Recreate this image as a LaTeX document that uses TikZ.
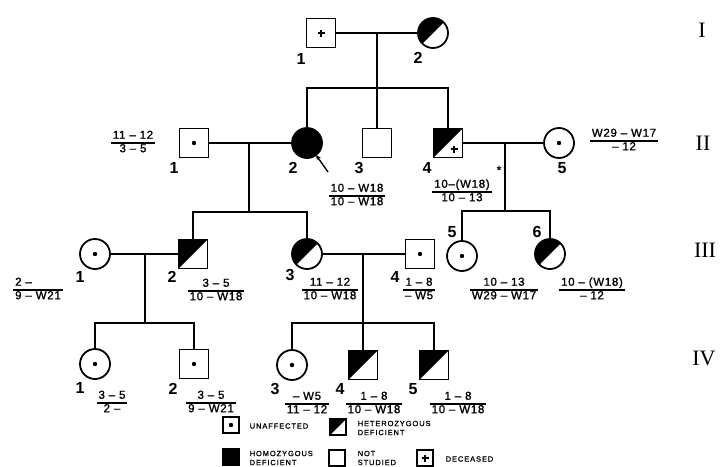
\documentclass[tikz,border=0pt]{standalone}
\usepackage{fontspec}
\usetikzlibrary{arrows.meta}
\newfontfamily\labf{Liberation Sans}
\newfontfamily\legf[LetterSpace=12,FakeBold=1]{Liberation Sans}
\newfontfamily\fracf[LetterSpace=6,FakeBold=1.2]{Liberation Sans}
\newfontfamily\genf{Liberation Serif}
\setlength\arrayrulewidth{1.1pt}
\renewcommand\arraystretch{0.95}
\newcommand\fr[2]{\begin{tabular}{@{\,}c@{\,}}#1\\\hline #2\end{tabular}}
\newcommand\halfsq[1]{\fill (#1.north west) -- (#1.north east) -- (#1.south west) -- cycle;}
\newcommand\halfci[1]{\fill (#1.45) arc[start angle=45,end angle=225,radius=15pt] -- cycle;}
\newcommand\dotc[1]{\fill (#1.center) circle[radius=2.2pt];}
\newcommand\plusat[1]{\draw[line width=1.2pt] ([xshift=-3.5pt]#1) -- ([xshift=3.5pt]#1) ([yshift=-3.5pt]#1) -- ([yshift=3.5pt]#1);}
\begin{document}
\begin{tikzpicture}[x=1pt,y=-1pt, line width=1.4pt,
 sq/.style={draw, rectangle, minimum size=29pt, inner sep=0pt, outer sep=0pt, line width=1.8pt},
 ci/.style={draw, circle, minimum size=30pt, inner sep=0pt, outer sep=0pt, line width=1.8pt},
 lsq/.style={draw, rectangle, minimum size=16pt, inner sep=0pt, outer sep=0pt, line width=1.4pt},
 num/.style={font=\labf\bfseries\fontsize{16}{16}\selectfont, inner sep=0pt},
 frac/.style={font=\fracf\fontsize{11.5}{13}\selectfont, inner sep=0pt},
 gen/.style={font=\genf\fontsize{22}{22}\selectfont, inner sep=0pt},
 leg/.style={font=\legf\fontsize{7.5}{9}\selectfont, inner sep=0pt, anchor=west, align=left}]
\useasboundingbox[fill=white] (0,0) rectangle (720,466);

% ---------- Generation I
\node[sq] (I1) at (321,33) {};
\node[ci] (I2) at (433,33) {};
\halfci{I2}
\plusat{I1.center}
\node[num] (nI1) at (301,59) {1};
\node[num] (nI2) at (418,58) {2};

% ---------- Generation II
\node[sq] (II1) at (194,143) {};
\node[ci, fill=black] (II2) at (307,143) {};
\node[sq] (II3) at (377,143) {};
\node[sq] (II4) at (448,143) {};
\node[ci] (II5) at (559,143) {};
\dotc{II1}
\halfsq{II4}
\coordinate (p4) at ([shift={(6pt,-6pt)}]II4.center);
\plusat{p4}
\dotc{II5}
\node[num] (nII1) at (174,168) {1};
\node[num] (nII2) at (293,168) {2};
\node[num] (nII3) at (359,168) {3};
\node[num] (nII4) at (427,168) {4};
\node[num] (nII5) at (562,168) {5};
\coordinate (arrtail) at (328,172);
\draw[line width=1.4pt, -{Stealth[length=5pt,width=4.5pt]}] (arrtail) -- (II2.-53);

% ---------- Generation III
\node[ci] (III1) at (95,254) {};
\node[sq] (III2) at (193,254) {};
\node[ci] (III3) at (307,254) {};
\node[sq] (III4) at (420,254) {};
\node[ci] (III5) at (462,256) {};
\node[ci] (III6) at (550,254) {};
\dotc{III1}
\halfsq{III2}
\halfci{III3}
\dotc{III4}
\dotc{III5}
\halfci{III6}
\node[num] (nIII1) at (80,277) {1};
\node[num] (nIII2) at (172,277) {2};
\node[num] (nIII3) at (290,275) {3};
\node[num] (nIII4) at (395,277) {4};
\node[num] (nIII5) at (452,232) {5};
\node[num] (nIII6) at (537,232) {6};

% ---------- Generation IV
\node[ci] (IV1) at (95,364) {};
\node[sq] (IV2) at (194,364) {};
\node[ci] (IV3) at (292,365) {};
\node[sq] (IV4) at (363,365) {};
\node[sq] (IV5) at (434,365) {};
\dotc{IV1}
\dotc{IV2}
\dotc{IV3}
\halfsq{IV4}
\halfsq{IV5}
\node[num] (nIV1) at (80,388) {1};
\node[num] (nIV2) at (173,389) {2};
\node[num] (nIV3) at (275,389) {3};
\node[num] (nIV4) at (340,389) {4};
\node[num] (nIV5) at (413,389) {5};

% ---------- Connectors
\coordinate (mI) at (377,33);
\coordinate (sI) at (377,88);
\draw (I1.east) -- (I2.west);
\draw (mI) -- (sI);
\draw (II2.north) |- (sI) -| (II4.north);
\draw (sI) -- (II3.north);

\coordinate (mII) at (249,143);
\coordinate (sII) at (249,212);
\draw (II1.east) -- (II2.west);
\draw (mII) -- (sII);
\draw (III2.north) |- (sII) -| (III3.north);

\coordinate (mIIb) at (505,143);
\coordinate (sIIb) at (505,211);
\draw (II4.east) -- (II5.west);
\draw (mIIb) -- (sIIb);
\draw (III5.north) |- (sIIb) -| (III6.north);

\coordinate (mIII) at (145,254);
\coordinate (sIII) at (145,323);
\draw (III1.east) -- (III2.west);
\draw (mIII) -- (sIII);
\draw (IV1.north) |- (sIII) -| (IV2.north);

\coordinate (mIIIb) at (363,254);
\coordinate (sIIIb) at (363,323);
\draw (III3.east) -- (III4.west);
\draw (mIIIb) -- (sIIIb);
\draw (IV3.north) |- (sIIIb) -| (IV5.north);
\draw (sIIIb) -- (IV4.north);

% ---------- Fractions
\node[frac] (fII1) at (133,143) {\fr{11 – 12}{3 – 5}};
\node[frac] (fII3) at (357,196) {\fr{10 – W18}{10 – W18}};
\node[frac] (fII4) at (462,192) {\fr{10–(W18)}{10 – 13}};
\node[frac] (star) at (499,170) {*};
\node[frac] (fII5) at (624,141) {\fr{W29 – W17}{– 12}};
\node[frac] (fIII1) at (38,290) {\fr{2 – \phantom{W21}}{9 – W21}};
\node[frac] (fIII2) at (216,291) {\fr{3 – 5}{10 – W18}};
\node[frac] (fIII3) at (330,290) {\fr{11 – 12}{10 – W18}};
\node[frac] (fIII4) at (419,290) {\fr{1 – 8}{– W5}};
\node[frac] (fIII5) at (504,290) {\fr{10 – 13}{W29 – W17}};
\node[frac] (fIII6) at (592,290) {\fr{10 – (W18)}{– 12}};
\node[frac] (fIV1) at (112,403) {\fr{3 – 5}{2 –}};
\node[frac] (fIV2) at (211,403) {\fr{3 – 5}{9 – W21}};
\node[frac] (fIV3) at (307,404) {\fr{– W5}{11 – 12}};
\node[frac] (fIV4) at (374,404) {\fr{1 – 8}{10 – W18}};
\node[frac] (fIV5) at (458,404) {\fr{1 – 8}{10 – W18}};

% ---------- Generation numerals
\node[gen] (gI) at (702,30) {I};
\node[gen] (gII) at (703,143) {II};
\node[gen] (gIII) at (705,250) {III};
\node[gen] (gIV) at (704,358) {IV};

% ---------- Legend
\node[lsq] (L1) at (231,425) {};
\dotc{L1}
\node[leg] (tL1) at (249,426) {UNAFFECTED};
\node[lsq] (L2) at (338,427) {};
\halfsq{L2}
\node[leg] (tL2) at (357,428) {HETEROZYGOUS\\DEFICIENT};
\node[lsq, fill=black] (L3) at (231,457) {};
\node[leg] (tL3) at (249,458) {HOMOZYGOUS\\DEFICIENT};
\node[lsq] (L4) at (337,458) {};
\node[leg] (tL4) at (357,458) {NOT\\STUDIED};
\node[lsq] (L5) at (425,458) {};
\plusat{L5.center}
\node[leg] (tL5) at (445,459) {DECEASED};
\end{tikzpicture}
\end{document}
